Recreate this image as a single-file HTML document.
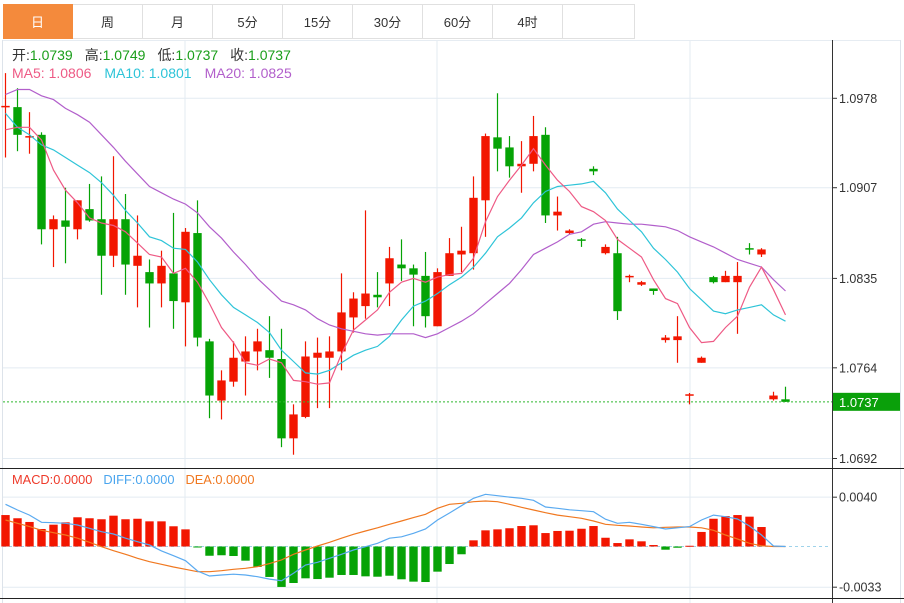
<!DOCTYPE html>
<html><head><meta charset="utf-8">
<style>
html,body{margin:0;padding:0;background:#fff;}
body{width:904px;height:603px;overflow:hidden;position:relative;font-family:"Liberation Sans","Noto Sans CJK SC",sans-serif;}
.tabs{position:absolute;left:3px;top:4px;height:35px;display:flex;}
.tab{width:70px;height:35px;border:1px solid #e0e0e0;border-left:none;box-sizing:border-box;font-size:13px;color:#333;display:flex;align-items:center;justify-content:center;}
.tab.active{background:#f48a3c;color:#fff;border-color:#f48a3c;}
svg{position:absolute;left:0;top:0;}
</style></head>
<body>
<div class="tabs">
<div class="tab active">日</div>
<div class="tab">周</div>
<div class="tab">月</div>
<div class="tab">5分</div>
<div class="tab">15分</div>
<div class="tab">30分</div>
<div class="tab">60分</div>
<div class="tab">4时</div>
<div class="tab" style="width:72px"></div>
</div>
<svg id="chart" width="904" height="603" style="top:0">
<g id="grid"></g><g id="marks"></g><g id="axis"></g>
<text x="12" y="60" font-size="14"><tspan fill="#333">开:</tspan><tspan fill="#1a9e1a">1.0739</tspan><tspan fill="#333" dx="12">高:</tspan><tspan fill="#1a9e1a">1.0749</tspan><tspan fill="#333" dx="12">低:</tspan><tspan fill="#1a9e1a">1.0737</tspan><tspan fill="#333" dx="12">收:</tspan><tspan fill="#1a9e1a">1.0737</tspan></text>
<text x="12" y="78" font-size="14"><tspan fill="#ee5a85">MA5: 1.0806</tspan><tspan fill="#2ec4d8" dx="13">MA10: 1.0801</tspan><tspan fill="#b25fcb" dx="13">MA20: 1.0825</tspan></text>
<text x="12" y="484" font-size="12.8"><tspan fill="#ee3a2a">MACD:0.0000</tspan><tspan fill="#4aa5ee" dx="11">DIFF:0.0000</tspan><tspan fill="#f07820" dx="11">DEA:0.0000</tspan></text>
</svg>
<script>
const opens=[1.0971,1.0971,1.0947,1.0949,1.0874,1.0881,1.0874,1.0890,1.0882,1.0853,1.0882,1.0845,1.0840,1.0831,1.0839,1.0816,1.0871,1.0785,1.0738,1.0753,1.0769,1.0777,1.0778,1.0771,1.0708,1.0725,1.0772,1.0772,1.0777,1.0804,1.0813,1.0822,1.0831,1.0846,1.0843,1.0837,1.0797,1.0837,1.0854,1.0855,1.0897,1.0947,1.0939,1.0924,1.0926,1.0949,1.0885,1.0871,1.0866,1.0922,1.0855,1.0855,1.0836,1.0830,1.0827,1.0786,1.0786,1.0742,1.0768,1.0836,1.0832,1.0832,1.0859,1.0854,1.0739,1.0739];
const highs=[1.0998,1.0986,1.0967,1.0951,1.0885,1.0907,1.0897,1.0910,1.0916,1.0932,1.0902,1.0885,1.0850,1.0857,1.0887,1.0875,1.0897,1.0787,1.0762,1.0785,1.0789,1.0795,1.0805,1.0795,1.0735,1.0785,1.0788,1.0789,1.0839,1.0824,1.0889,1.0840,1.0860,1.0866,1.0846,1.0856,1.0843,1.0867,1.0876,1.0916,1.0950,1.0982,1.0948,1.0944,1.0964,1.0955,1.0900,1.0874,1.0867,1.0924,1.0862,1.0868,1.0838,1.0833,1.0827,1.0790,1.0805,1.0744,1.0773,1.0837,1.0841,1.0848,1.0863,1.0859,1.0745,1.0749];
const lows=[1.0931,1.0936,1.0934,1.0862,1.0844,1.0847,1.0866,1.0880,1.0822,1.0844,1.0822,1.0812,1.0796,1.0812,1.0795,1.0781,1.0781,1.0724,1.0723,1.0749,1.0742,1.0762,1.0756,1.0701,1.0695,1.0724,1.0732,1.0732,1.0762,1.0792,1.0803,1.0812,1.0813,1.0833,1.0797,1.0796,1.0797,1.0837,1.0840,1.0842,1.0868,1.0920,1.0915,1.0903,1.0920,1.0879,1.0873,1.0870,1.0860,1.0917,1.0854,1.0802,1.0832,1.0829,1.0822,1.0784,1.0768,1.0735,1.0768,1.0831,1.0832,1.0791,1.0854,1.0852,1.0738,1.0737];
const closes=[1.0972,1.0949,1.0948,1.0874,1.0882,1.0876,1.0897,1.0881,1.0853,1.0882,1.0846,1.0853,1.0831,1.0845,1.0817,1.0872,1.0788,1.0742,1.0754,1.0772,1.0777,1.0785,1.0772,1.0708,1.0727,1.0773,1.0776,1.0777,1.0808,1.0819,1.0823,1.0820,1.0851,1.0843,1.0838,1.0805,1.0840,1.0855,1.0857,1.0899,1.0948,1.0938,1.0924,1.0926,1.0948,1.0885,1.0888,1.0873,1.0865,1.0920,1.0860,1.0809,1.0837,1.0832,1.0825,1.0788,1.0789,1.0743,1.0772,1.0832,1.0837,1.0837,1.0858,1.0858,1.0742,1.0737];
const ma5=[1.0953,1.0955,1.0955,1.0945,1.0921,1.0905,1.0895,1.0883,1.0879,1.0877,1.0872,1.0863,1.0854,1.0852,1.0839,1.0843,1.0832,1.0815,1.0796,1.0784,1.0768,1.0766,1.0771,1.0768,1.0754,1.0753,1.0751,1.0752,1.0775,1.0794,1.0802,1.0810,1.0824,1.0832,1.0835,1.0832,1.0836,1.0838,1.0839,1.0851,1.0880,1.0900,1.0913,1.0925,1.0938,1.0925,1.0913,1.0904,1.0892,1.0888,1.0881,1.0866,1.0859,1.0852,1.0834,1.0819,1.0815,1.0796,1.0784,1.0785,1.0796,1.0805,1.0828,1.0844,1.0826,1.0806];
const ma10=[1.0966,1.0955,1.0949,1.0941,1.0937,1.0931,1.0925,1.0919,1.0911,1.0901,1.0889,1.0879,1.0868,1.0865,1.0859,1.0858,1.0848,1.0834,1.0822,1.0812,1.0806,1.0800,1.0792,1.0778,1.0769,1.0760,1.0759,1.0762,1.0768,1.0774,1.0778,1.0781,1.0789,1.0802,1.0813,1.0817,1.0823,1.0830,1.0836,1.0844,1.0855,1.0868,1.0875,1.0883,1.0895,1.0904,1.0908,1.0909,1.0910,1.0912,1.0903,1.0890,1.0881,1.0872,1.0859,1.0850,1.0840,1.0827,1.0818,1.0809,1.0807,1.0810,1.0812,1.0814,1.0806,1.0801];
const ma20=[1.0981,1.0985,1.0985,1.0980,1.0977,1.0970,1.0965,1.0959,1.0949,1.0939,1.0928,1.0918,1.0908,1.0903,1.0898,1.0894,1.0887,1.0876,1.0867,1.0856,1.0846,1.0835,1.0826,1.0817,1.0814,1.0810,1.0803,1.0798,1.0795,1.0793,1.0791,1.0790,1.0791,1.0791,1.0791,1.0788,1.0791,1.0796,1.0801,1.0807,1.0815,1.0823,1.0831,1.0842,1.0854,1.0859,1.0864,1.0870,1.0872,1.0878,1.0880,1.0879,1.0878,1.0878,1.0877,1.0876,1.0873,1.0868,1.0864,1.0860,1.0855,1.0850,1.0847,1.0844,1.0834,1.0825];
const macdHist=[0.00255,0.00229,0.00199,0.00142,0.00177,0.00196,0.00237,0.00229,0.00221,0.0025,0.00221,0.00225,0.00204,0.00204,0.00164,0.00139,-0.00006,-0.00075,-0.00071,-0.00077,-0.00115,-0.00166,-0.00247,-0.00328,-0.00296,-0.00258,-0.00264,-0.00253,-0.00231,-0.00231,-0.00242,-0.00245,-0.00237,-0.00266,-0.00285,-0.00288,-0.00204,-0.00142,-0.00063,0.0005,0.00131,0.00139,0.00148,0.00166,0.00172,0.00109,0.00126,0.00128,0.00144,0.00166,0.00071,0.00028,0.00058,0.00042,0.00012,-0.00026,-0.0001,0.00006,0.00118,0.00225,0.00247,0.00255,0.00242,0.00158,0,0];
const diff=[0.00342,0.00296,0.00255,0.00196,0.00193,0.00188,0.00174,0.00148,0.0012,0.00101,0.00067,0.00039,0.00012,-0.00036,-0.00075,-0.00115,-0.00199,-0.00239,-0.00231,-0.00225,-0.00231,-0.00245,-0.00264,-0.00277,-0.00217,-0.0015,-0.00128,-0.00096,-0.00063,-0.00028,-0.00002,0.00026,0.00067,0.00079,0.00107,0.00142,0.00215,0.00272,0.00331,0.00391,0.00423,0.00412,0.00401,0.00391,0.00375,0.0032,0.0031,0.00298,0.0029,0.00282,0.00221,0.00188,0.00196,0.0018,0.00161,0.00142,0.00152,0.00161,0.00215,0.00255,0.00242,0.00223,0.00166,0.00093,0.00004,0];
const dea=[0.00215,0.00188,0.00161,0.00131,0.00112,0.00093,0.00067,0.00034,-0.00002,-0.00034,-0.00063,-0.00096,-0.00123,-0.00144,-0.00166,-0.00185,-0.00204,-0.00204,-0.00196,-0.00185,-0.00177,-0.00164,-0.00139,-0.00109,-0.00063,-0.00028,0.00004,0.00034,0.00067,0.00099,0.00126,0.00152,0.0018,0.00207,0.00234,0.00261,0.0031,0.00342,0.0035,0.00363,0.00369,0.00363,0.00342,0.00318,0.00296,0.00274,0.00255,0.00242,0.00229,0.00207,0.0018,0.00172,0.00166,0.00158,0.00152,0.00156,0.00158,0.00158,0.00152,0.00131,0.00093,0.00061,0.00026,0.00006,0,0];
const priceTicks=["1.0978","1.0907","1.0835","1.0764","1.0692"];
const macdTicks=["0.0040","-0.0033"];
const lastPrice="1.0737";

const NS="http://www.w3.org/2000/svg";
const gGrid=document.getElementById('grid'),gMarks=document.getElementById('marks'),gAxis=document.getElementById('axis');
function xOf(i){return 5.5+12*i;}
function yP(p){return 98.3+(1.0978-p)/0.0000794;}
function yM(v){return 546.5-v/0.0000811;}
function mk(tag,attrs,parent){const e=document.createElementNS(NS,tag);for(const k in attrs)e.setAttribute(k,attrs[k]);parent.appendChild(e);return e;}

[185,437,690].forEach(x=>{const l=mk('line',{x1:x,y1:40,x2:x,y2:603,stroke:'#e3ebf2','stroke-width':1},gGrid);

});
priceTicks.forEach(t=>{const y=yP(parseFloat(t));const l=mk('line',{x1:3,y1:y,x2:832,y2:y,stroke:'#e3ebf2','stroke-width':1},gGrid);

});
macdTicks.forEach(t=>{const y=yM(parseFloat(t));const l=mk('line',{x1:3,y1:y,x2:832,y2:y,stroke:'#e3ebf2','stroke-width':1},gGrid);

});
mk('line',{x1:2.5,y1:40,x2:2.5,y2:603,stroke:'#dde3ea'},gGrid);
mk('line',{x1:900.5,y1:40,x2:900.5,y2:603,stroke:'#dde3ea'},gGrid);
mk('line',{x1:3,y1:40.5,x2:900,y2:40.5,stroke:'#e6ecf2'},gGrid);

const RED='#f21600',GREEN='#06a306';
for(let i=0;i<opens.length;i++){
  const o=opens[i],c=closes[i],h=highs[i],l=lows[i];
  const up=c>=o;const col=up?RED:GREEN;const x=xOf(i);
  const g=mk('g',{},gMarks);
  
  
  mk('line',{x1:x,y1:yP(h),x2:x,y2:yP(l),stroke:col,'stroke-width':1.2},g);
  const top=Math.min(yP(o),yP(c)),bh=Math.max(1.5,Math.abs(yP(o)-yP(c)));
  mk('rect',{x:x-4.2,y:top,width:8.4,height:bh,fill:col},g);
}
function line(arr,f,col,name){
  const pts=arr.map((v,i)=>xOf(i).toFixed(1)+','+f(v).toFixed(1)).join(' ');
  const p=mk('polyline',{points:pts,fill:'none',stroke:col,'stroke-width':1.2},gMarks);
  
  
}
line(ma20,yP,'#b25fcb','ma20-line');
line(ma10,yP,'#2ec4d8','ma10-line');
line(ma5,yP,'#ee5a85','ma5-line');

for(let i=0;i<macdHist.length;i++){
  const v=macdHist[i];if(v===0)continue;
  const y0=yM(0),y1=yM(v);
  const r=mk('rect',{x:xOf(i)-4.2,y:Math.min(y0,y1),width:8.4,height:Math.max(1,Math.abs(y1-y0)),fill:v>0?RED:GREEN},gMarks);
  
  
}
mk('line',{x1:3,y1:yM(0),x2:828,y2:yM(0),stroke:'#9fd3ea','stroke-dasharray':'3,3'},gGrid);
line(dea,yM,'#f07820','dea-line');
line(diff,yM,'#5aaaf0','diff-line');

mk('line',{x1:832.5,y1:40,x2:832.5,y2:603,stroke:'#333'},gAxis);
mk('line',{x1:0,y1:468.5,x2:904,y2:468.5,stroke:'#222'},gAxis);
mk('line',{x1:0,y1:598.5,x2:904,y2:598.5,stroke:'#222'},gAxis);
priceTicks.forEach(t=>{const y=yP(parseFloat(t));
  mk('line',{x1:832,y1:y,x2:837,y2:y,stroke:'#333'},gAxis);
  const tx=mk('text',{x:839,y:y+4.5,'font-size':12.5,fill:'#333'},gAxis);tx.textContent=t;
  
  });
macdTicks.forEach(t=>{const y=yM(parseFloat(t));
  mk('line',{x1:832,y1:y,x2:837,y2:y,stroke:'#333'},gAxis);
  const tx=mk('text',{x:839,y:y+4.5,'font-size':12.5,fill:'#333'},gAxis);tx.textContent=t;
  
  });
const ly=yP(parseFloat(lastPrice));
mk('line',{x1:3,y1:ly,x2:832,y2:ly,stroke:'#2fb82f','stroke-dasharray':'2,2'},gAxis);
const box=mk('rect',{x:833,y:ly-9,width:67,height:18,fill:'#0aa00a'},gAxis);


const lt=mk('text',{x:839,y:ly+5,'font-size':13,fill:'#fff'},gAxis);lt.textContent=lastPrice;


</script>
</body></html>
